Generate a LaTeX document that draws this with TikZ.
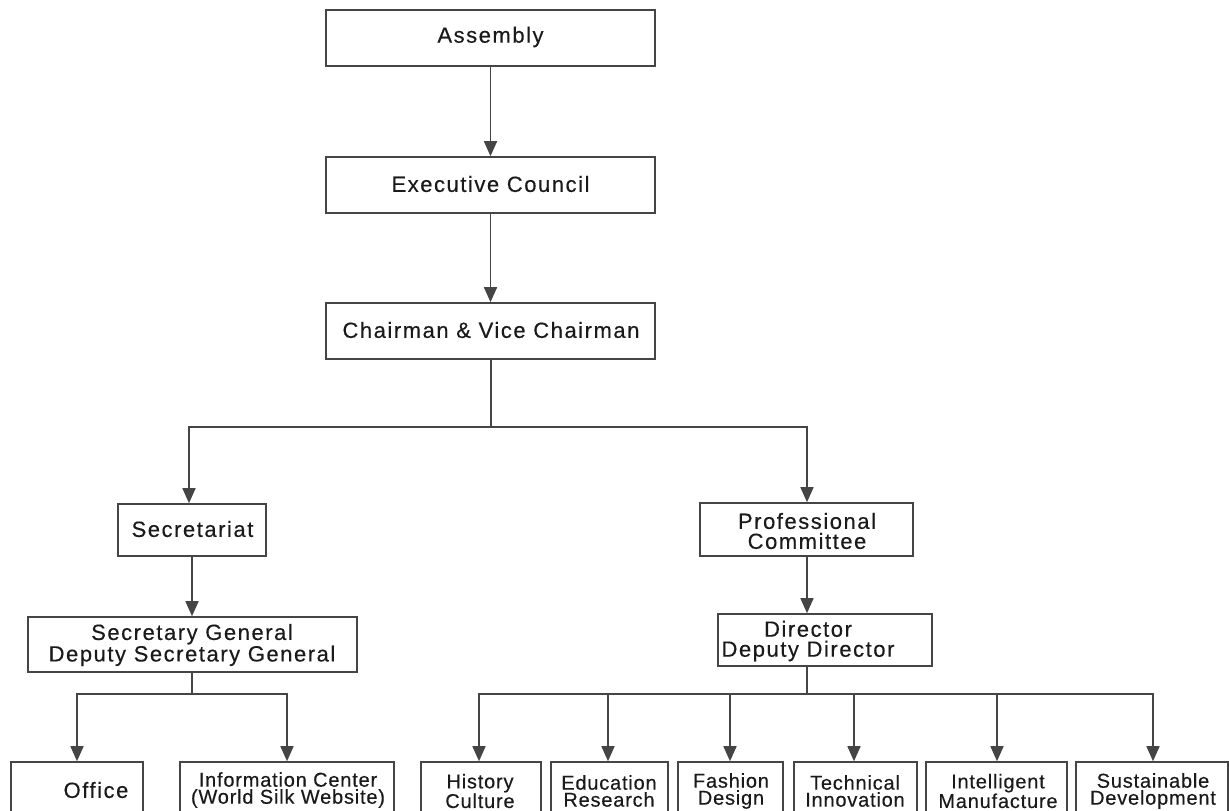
\documentclass[tikz,border=0pt]{standalone}
\usepackage{fontspec}
\setmainfont{Liberation Sans}
\newfontfamily\topfont[LetterSpace=7,FakeBold=0.3]{Liberation Sans}
\newfontfamily\botfont[LetterSpace=4,FakeBold=0.3]{Liberation Sans}
\usetikzlibrary{arrows.meta}
\definecolor{ln}{HTML}{454545}
\definecolor{tx}{HTML}{1A1A1A}
\tikzset{
  box/.style={draw=ln, line width=1.6pt, rectangle, inner sep=0pt},
  bigtext/.style={text=tx, inner sep=0pt, align=center, font={\topfont\fontsize{22}{20}\selectfont}},
  smalltext/.style={text=tx, inner sep=0pt, align=center, font={\botfont\fontsize{20}{17}\selectfont}},
  arr/.style={draw=ln, line width=1.6pt, -{Triangle[length=15pt,width=13pt]}},
  ln/.style={draw=ln, line width=1.6pt}
}
\begin{document}
\begin{tikzpicture}[x=1pt,y=-1pt]
\useasboundingbox (0,0) rectangle (1229,811);
\fill[white] (0,0) rectangle (1229,811);
\clip (0,0) rectangle (1229,811);

% top boxes
\node[box, minimum width=329pt, minimum height=56pt] (asm) at (490.5,38) {};
\node[bigtext] (asmT) at (490.5,37) {Assembly};
\node[box, minimum width=329pt, minimum height=56pt] (exe) at (490.5,185) {};
\node[bigtext] (exeT) at (490.5,184) {Executive Council};
\node[box, minimum width=329pt, minimum height=56pt] (chair) at (490.5,331) {};
\node[bigtext] (chairT) at (491,330) {Chairman \& Vice Chairman};

% left branch
\node[box, minimum width=148pt, minimum height=52pt] (sec) at (192,530) {};
\node[bigtext] (secT) at (192.5,529) {Secretariat};
\node[box, minimum width=329pt, minimum height=55pt] (sg) at (192.5,644.5) {};
\node[bigtext] (sgT) at (192,645) {Secretary General\\Deputy Secretary General};

% right branch
\node[box, minimum width=213pt, minimum height=53pt] (prof) at (806.5,529.5) {};
\node[bigtext] (profT) at (807,531) {Professional\\Committee};
\node[box, minimum width=214pt, minimum height=52pt] (dir) at (825,640) {};
\node[bigtext] (dirT) at (808,641) {Director\\Deputy Director};

% bottom boxes (cut by the lower edge)
\node[box, minimum width=132pt, minimum height=80pt] (office) at (77,802) {};
\node[box, minimum width=214pt, minimum height=80pt] (info) at (287,802) {};
\node[box, minimum width=120pt, minimum height=80pt] (hist) at (481,802) {};
\node[box, minimum width=117pt, minimum height=80pt] (edu) at (609.5,802) {};
\node[box, minimum width=105pt, minimum height=80pt] (fash) at (730.5,802) {};
\node[box, minimum width=123pt, minimum height=80pt] (tech) at (855.5,802) {};
\node[box, minimum width=141pt, minimum height=80pt] (intel) at (996.5,802) {};
\node[box, minimum width=152pt, minimum height=80pt] (sust) at (1152,802) {};

\node[bigtext] (officeT) at (96,790) {Office};
\node[smalltext] (infoT) at (288,790) {Information Center\\(World Silk Website)};
\node[smalltext] (histT) at (480,791) {History\\Culture};
\node[smalltext] (eduT) at (609,791) {Education\\Research};
\node[smalltext] (fashT) at (731,791) {Fashion\\Design};
\node[smalltext] (techT) at (855,791) {Technical\\Innovation};
\node[smalltext] (intelT) at (998,791) {Intelligent\\Manufacture};
\node[smalltext] (sustT) at (1153,791) {Sustainable\\Development};

% junctions
\coordinate (jTop) at (491,427);
\coordinate (jL) at (192,694);
\coordinate (jR) at (807,694);
\coordinate (xSec) at (189,0);
\coordinate (xProf) at (807,0);
\coordinate (xOffice) at (77,0);
\coordinate (xInfo) at (287,0);
\coordinate (xHist) at (479,0);
\coordinate (xEdu) at (608,0);
\coordinate (xFash) at (730,0);
\coordinate (xTech) at (854,0);
\coordinate (xIntel) at (997,0);
\coordinate (xSust) at (1153,0);

% connectors
\draw[arr] (asm.south) -- (exe.north);
\draw[arr] (exe.south) -- (chair.north);
\draw[ln] (chair.south -| jTop) -- (jTop);
\draw[arr] (jTop) -| (sec.north -| xSec);
\draw[arr] (jTop) -| (prof.north -| xProf);
\draw[arr] (sec.south) -- (sg.north -| sec.south);
\draw[arr] (prof.south -| xProf) -- (dir.north -| xProf);

\draw[ln] (sg.south -| jL) -- (jL);
\draw[arr] (jL) -| (office.north -| xOffice);
\draw[arr] (jL) -| (info.north -| xInfo);

\draw[ln] (dir.south -| jR) -- (jR);
\draw[arr] (jR) -| (hist.north -| xHist);
\draw[arr] (jR) -| (edu.north -| xEdu);
\draw[arr] (jR) -| (fash.north -| xFash);
\draw[arr] (jR) -| (tech.north -| xTech);
\draw[arr] (jR) -| (intel.north -| xIntel);
\draw[arr] (jR) -| (sust.north -| xSust);
\end{tikzpicture}
\end{document}
